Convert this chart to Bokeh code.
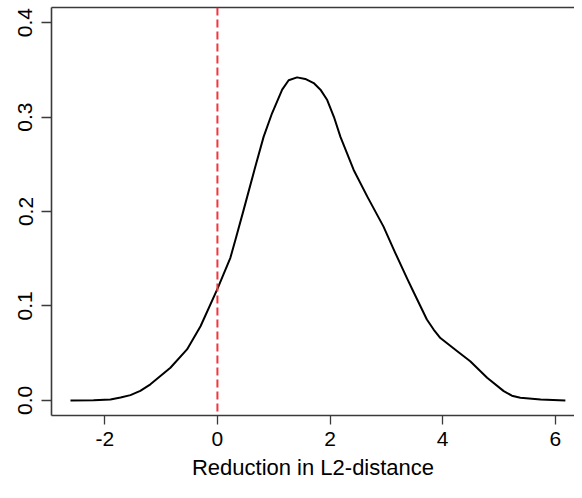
from bokeh.plotting import figure
from bokeh.models import LinearAxis, FixedTicker, PrintfTickFormatter, Span, Range1d, ColumnDataSource
from bokeh.embed import file_html
from bokeh.resources import INLINE

# Density curve
dens_x = [-2.61, -2.2, -1.90, -1.72, -1.545, -1.37, -1.19, -0.835, -0.54, -0.30, 0.0, 0.23, 0.32,
          0.467, 0.675, 0.82, 0.97, 1.15, 1.265, 1.415, 1.56, 1.71, 1.83, 1.95, 2.07, 2.185, 2.42,
          2.66, 2.95, 3.16, 3.37, 3.49, 3.72, 3.84, 3.96, 4.26, 4.49, 4.79, 5.085, 5.23, 5.38,
          5.74, 6.18]
dens_y = [0.0, 0.0002, 0.001, 0.003, 0.0056, 0.010, 0.017, 0.0346, 0.054, 0.0785, 0.118, 0.151, 0.170,
          0.202, 0.248, 0.279, 0.304, 0.329, 0.339, 0.342, 0.3404, 0.336, 0.329, 0.318, 0.300, 0.279, 0.244,
          0.216, 0.184, 0.156, 0.129, 0.114, 0.0856, 0.075, 0.066, 0.052, 0.0415, 0.024, 0.0098, 0.005, 0.0028,
          0.001, 0.0]
vline_x = 0
x_ticks = [-2, 0, 2, 4, 6]
y_ticks = [0.0, 0.1, 0.2, 0.3, 0.4]
x_label = "Reduction in L2-distance"

FONT = "Liberation Sans"
BOX = "#3a3a3a"

p = figure(width=574, height=482, output_backend="svg", toolbar_location=None,
           x_range=Range1d(-2.947, 6.342), y_range=Range1d(-0.016, 0.416),
           min_border_left=51, min_border_right=0, min_border_top=7, min_border_bottom=0,
           x_axis_location="below", y_axis_location="left")
p.outline_line_color = None
p.grid.visible = False
p.background_fill_color = "white"
p.border_fill_color = "white"

src = ColumnDataSource(dict(x=dens_x, y=dens_y))
p.line("x", "y", source=src, line_color="black", line_width=2, line_join="round")

p.add_layout(Span(location=vline_x, dimension="height", line_color="#f2353b",
                  line_width=2, line_dash="8 4"))

for ax in [p.xaxis[0], p.yaxis[0]]:
    ax.axis_line_color = BOX
    ax.axis_line_width = 1.6
    ax.major_tick_line_color = BOX
    ax.major_tick_line_width = 1.3
    ax.minor_tick_line_color = None
    ax.major_tick_in = 0
    ax.major_label_text_font = FONT
    ax.major_label_text_font_size = "21px"
    ax.major_label_text_color = "black"

p.xaxis.ticker = FixedTicker(ticks=x_ticks)
p.xaxis.formatter = PrintfTickFormatter(format="%d")
p.xaxis.major_tick_out = 9
p.xaxis.major_label_standoff = 7
p.xaxis.axis_label = x_label
p.xaxis.axis_label_text_font = FONT
p.xaxis.axis_label_text_font_size = "22px"
p.xaxis.axis_label_text_font_style = "normal"
p.xaxis.axis_label_text_color = "black"
p.xaxis.axis_label_standoff = 6

p.yaxis.ticker = FixedTicker(ticks=y_ticks)
p.yaxis.formatter = PrintfTickFormatter(format="%.1f")
p.yaxis.major_tick_out = 10
p.yaxis.major_label_standoff = 9
p.yaxis.major_label_orientation = "vertical"

top = LinearAxis(ticker=FixedTicker(ticks=[]), axis_line_color=BOX, axis_line_width=1.6,
                 major_tick_line_color=None, minor_tick_line_color=None,
                 major_label_text_font_size="0px", major_label_standoff=0)
p.add_layout(top, "above")

open("out.html", "w").write(file_html(p, INLINE))
